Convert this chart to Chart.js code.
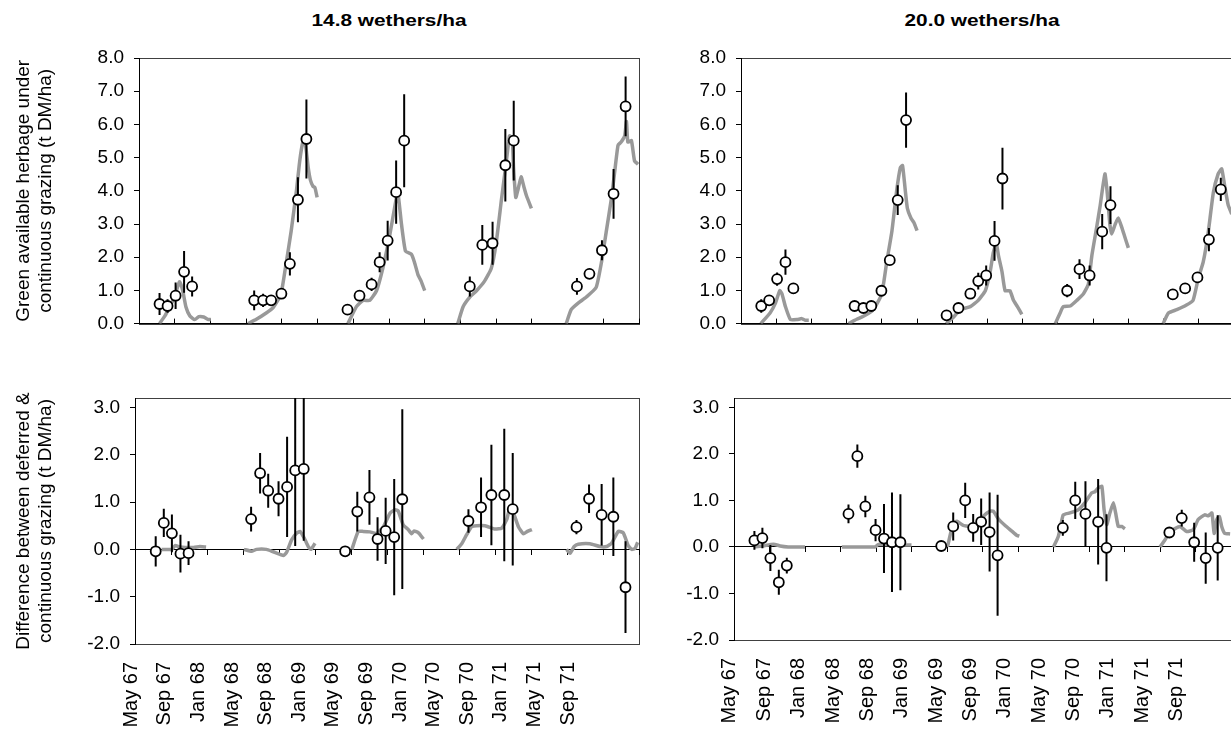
<!DOCTYPE html>
<html>
<head>
<meta charset="utf-8">
<title>Green herbage under continuous and deferred grazing</title>
<script src="https://cdn.jsdelivr.net/npm/chart.js@4.4.1/dist/chart.umd.min.js"></script>
<style>
  body {
    margin: 0;
    width: 1231px;
    height: 734px;
    overflow: hidden;
    position: relative;
    background: #fff;
    font-family: "Liberation Sans", Arial, sans-serif;
  }
  canvas { position: absolute; }
  .title {
    position: absolute;
    top: 12px;
    font-size: 16px;
    font-weight: bold;
    white-space: nowrap;
    transform: translateX(-50%) scaleX(1.3);
  }
</style>
</head>
<body>
<div class="title" style="left:389px">14.8 wethers/ha</div>
<div class="title" style="left:982px">20.0 wethers/ha</div>
<canvas id="herb148" width="660" height="345" style="left:0;top:0"></canvas>
<canvas id="herb200" width="580" height="345" style="left:680px;top:0"></canvas>
<canvas id="diff148" width="660" height="374" style="left:0;top:360px"></canvas>
<canvas id="diff200" width="580" height="374" style="left:680px;top:360px"></canvas>

<script>
/* ================= Data ================= */
// time is in months counted from 1 May 1967

const monthTicks = [0, 4, 8, 12, 16, 20, 24, 28, 32, 36, 40, 44, 48, 52, 56];
const tickLabels = ["May 67", "Sep 67", "Jan 68", "May 68", "Sep 68", "Jan 69", "May 69",
  "Sep 69", "Jan 70", "May 70", "Sep 70", "Jan 71", "May 71", "Sep 71"];
const herbageTicks = [0, 1, 2, 3, 4, 5, 6, 7, 8];
const diffTicks = [-2, -1, 0, 1, 2, 3];

// sampling dates of the observed values
const sampleMonths = [
  2.3, 3.2, 4.1, 5.05, 5.95,
  12.9, 13.9, 14.8, 15.95, 16.9, 17.8, 18.75,
  23.35, 24.7, 26.05, 26.95, 27.85, 28.8, 29.7,
  37.05, 38.45, 39.6, 41.03, 41.97,
  49.05, 50.45, 51.85, 53.15, 54.5,
];

// observed green herbage, continuous grazing (t DM/ha)
const herb148 = [0.59, 0.53, 0.84, 1.56, 1.12, 0.7, 0.7, 0.7, 0.9, 1.8, 3.73, 5.56,
  0.42, 0.84, 1.18, 1.85, 2.5, 3.96, 5.51, 1.12, 2.37, 2.42, 4.77, 5.51,
  1.12, 1.5, 2.21, 3.91, 6.54];
const herb148Err = [0.33, 0.2, 0.4, 0.63, 0.3, 0.3, 0.2, 0.15, 0.1, 0.35, 0.68, 1.19,
  0.08, 0.15, 0.2, 0.3, 0.6, 0.95, 1.4, 0.3, 0.6, 0.65, 1.09, 1.2,
  0.25, 0.15, 0.3, 0.75, 0.9];
const herb200 = [0.53, 0.7, 1.34, 1.85, 1.06, 0.53, 0.47, 0.53, 0.99, 1.91, 3.72, 6.13,
  0.25, 0.47, 0.9, 1.28, 1.45, 2.49, 4.37, 0.99, 1.64, 1.45, 2.77, 3.57,
  0.88, 1.06, 1.39, 2.53, 4.04];
const herb200Err = [0.2, 0.1, 0.2, 0.38, 0.1, 0.15, 0.1, 0.08, 0.08, 0.12, 0.45, 0.83,
  0.05, 0.1, 0.12, 0.25, 0.3, 0.6, 0.93, 0.2, 0.3, 0.3, 0.53, 0.57,
  0.15, 0.08, 0.15, 0.35, 0.35];

// observed difference deferred - continuous (t DM/ha)
const diff148 = [-0.04, 0.56, 0.34, -0.09, -0.08, 0.64, 1.61, 1.24, 1.07, 1.32, 1.67, 1.7,
  -0.04, 0.8, 1.1, 0.22, 0.39, 0.26, 1.06, 0.6, 0.89, 1.15, 1.15, 0.85,
  0.47, 1.07, 0.73, 0.69, -0.8];
const diff148Err = [0.32, 0.3, 0.4, 0.4, 0.25, 0.26, 0.43, 0.36, 0.37, 1.06, 1.6, 1.52,
  0.05, 0.42, 0.58, 0.46, 0.7, 1.23, 1.9, 0.25, 0.63, 1.06, 1.4, 1.19,
  0.15, 0.3, 0.65, 0.83, 0.97];
const diff200 = [0.14, 0.19, -0.24, -0.76, -0.4, 0.71, 1.95, 0.87, 0.36, 0.18, 0.1, 0.1,
  0.02, 0.44, 1.0, 0.41, 0.54, 0.32, -0.18, 0.41, 1.0, 0.71, 0.54, -0.02,
  0.31, 0.62, 0.1, -0.24, -0.02];
const diff200Err = [0.2, 0.22, 0.28, 0.27, 0.17, 0.2, 0.25, 0.23, 0.24, 0.74, 1.07, 1.03,
  0.03, 0.3, 0.38, 0.3, 0.5, 0.85, 1.3, 0.17, 0.4, 0.7, 0.92, 0.72,
  0.1, 0.18, 0.42, 0.55, 0.7];

// simulated series (null = break between seasons)
const simHerb148Months = [
  2.3, 2.9, 3.45, 3.9, 4.35, 4.55, 4.9, 5.25, 5.7, 6.25, 6.7, 7.25, 7.7, 8.05, null,
  12.2, 13.15, 14.25, 15.0, 15.75, 16.05, 16.5, 17.05, 17.65, 18.0, 18.35, 18.55, 18.75, 18.95, 19.2, 19.5, 19.7, 19.95, null,
  23.4, 24.35, 25.1, 25.85, 26.6, 27.3, 28.05, 28.8, 29.0, 29.4, 29.85, 30.5, 30.85, 31.25, 31.6, 32.0, null,
  35.7, 36.3, 37.05, 37.8, 38.7, 39.45, 40.0, 40.6, 41.15, 41.5, 41.8, 41.95, 42.2, 42.45, 42.8, 43.1, 43.4, 43.95, null,
  47.85, 48.4, 49.15, 50.1, 51.2, 51.8, 52.35, 52.9, 53.25, 53.65, 54.0, 54.4, 54.6, 54.75, 55.15, 55.5, 55.9,
];
const simHerb148 = [
  0, 0.23, 0.51, 0.75, 1.13, 1.26, 0.99, 0.51, 0.23, 0.12, 0.21, 0.2, 0.13, 0.12, null,
  0, 0.13, 0.32, 0.47, 0.8, 1.09, 1.85, 2.8, 4.04, 4.9, 5.47, 5.51, 5.18, 4.7, 4.32, 4.13, 4.1, 3.8, null,
  0, 0.51, 0.7, 0.7, 0.99, 1.66, 2.61, 3.75, 3.94, 2.99, 2.18, 2.09, 1.85, 1.47, 1.28, 0.99, null,
  0, 0.51, 0.8, 0.99, 1.28, 1.66, 2.42, 3.75, 4.9, 5.66, 5.56, 4.7, 3.8, 4.04, 4.42, 4.13, 3.85, 3.47, null,
  0, 0.42, 0.61, 0.8, 1.09, 1.85, 2.8, 3.75, 4.51, 5.37, 5.47, 5.66, 6.09, 5.47, 5.51, 4.9, 4.8,
];

const simHerb200Months = [
  2.25, 3.3, 3.9, 4.4, 4.65, 5.05, 5.6, 6.35, 6.9, 7.3, 7.7, null,
  12.2, 13.15, 13.9, 14.85, 15.45, 16.0, 16.55, 17.15, 17.7, 18.1, 18.35, 18.65, 18.9, 19.3, 19.65, 20.0, null,
  23.3, 24.15, 24.9, 26.05, 26.95, 27.75, 28.3, 28.65, 29.0, 29.25, 29.65, 30.0, 30.55, 30.95, 31.4, 31.9, null,
  35.7, 36.25, 36.6, 37.4, 38.15, 38.9, 39.45, 39.85, 40.4, 40.8, 41.1, 41.35, 41.6, 41.9, 42.1, 42.5, 42.85, 43.25, 43.6, 44.0, null,
  47.95, 48.55, 49.5, 50.6, 51.35, 51.95, 52.5, 53.05, 53.65, 54.2, 54.6, 54.95, 55.35, 55.75,
];
const simHerb200 = [
  0, 0.32, 0.61, 0.99, 0.9, 0.51, 0.13, 0.12, 0.15, 0.1, 0.1, null,
  0, 0.13, 0.22, 0.37, 0.6, 0.9, 1.85, 2.8, 4.04, 4.7, 4.76, 4.04, 3.47, 3.18, 3.04, 2.8, null,
  0, 0.2, 0.42, 0.51, 0.7, 0.99, 1.56, 2.13, 2.42, 2.04, 1.56, 0.99, 0.99, 0.7, 0.51, 0.28, null,
  0, 0.32, 0.51, 0.53, 0.7, 0.9, 1.18, 2.04, 2.9, 3.56, 4.13, 4.51, 3.94, 2.99, 2.7, 2.99, 3.18, 2.9, 2.61, 2.28, null,
  0, 0.32, 0.42, 0.56, 0.7, 1.37, 1.85, 2.7, 3.94, 4.51, 4.66, 4.13, 3.56, 3.3,
];

const simDiff148Months = [
  2.95, 4.1, 4.45, 5.0, 6.5, 7.2, 7.9, null,
  12.1, 12.95, 13.5, 14.6, 15.35, 16.5, 16.85, 17.4, 17.95, 18.35, 18.8, 19.25, 19.55, 20.0, null,
  24.1, 24.8, 25.35, 26.1, 26.85, 27.6, 28.35, 28.9, 29.25, 29.8, 30.35, 30.75, 31.0, 31.5, 32.05, null,
  35.75, 36.3, 36.85, 37.4, 37.95, 38.9, 40.0, 40.75, 41.3, 41.65, 42.05, 42.6, 43.15, 43.6, 44.1, null,
  47.95, 48.35, 48.8, 49.25, 50.55, 51.65, 52.4, 52.95, 53.7, 54.25, 54.8, 55.2, 55.55, 55.85,
];
const simDiff148 = [
  0, 0, 0.08, 0.05, 0.04, 0.06, 0.05, null,
  0, -0.04, 0, 0, -0.05, -0.13, -0.06, 0.2, 0.34, 0.38, 0.24, 0.06, 0, 0.13, null,
  0, 0.38, 0.38, 0.37, 0.34, 0.48, 0.77, 0.84, 0.81, 0.52, 0.42, 0.33, 0.39, 0.35, 0.22, null,
  0, 0.12, 0.31, 0.48, 0.5, 0.5, 0.43, 0.45, 0.63, 0.87, 0.77, 0.48, 0.33, 0.38, 0.42, null,
  0, -0.08, 0.06, 0.11, 0.12, 0.06, 0.06, 0.13, 0.38, 0.35, 0.08, 0, 0.02, 0.15,
];

const simDiff200Months = [
  2.25, 3.15, 4.45, 5.2, 6.1, 8.0, null,
  12.15, 15.9, 16.25, 20.0, null,
  24.05, 24.7, 25.1, 25.85, 26.2, 27.15, 28.1, 28.85, 29.2, 29.8, 30.55, 31.3, 31.85, 32.15, null,
  36.0, 36.55, 37.1, 37.85, 38.8, 39.55, 40.3, 40.7, 41.05, 41.45, 41.7, 42.0, 42.35, 42.75, 43.0, 43.3, 43.7, 44.05, null,
  48.0, 48.55, 49.15, 50.25, 51.0, 51.75, 52.3, 53.05, 53.45, 53.85, 54.1, 54.4, 54.7, 54.95, 55.3, 55.9,
];
const simDiff200 = [
  0, 0.02, 0.06, 0.02, 0, 0, null,
  0, 0, 0.05, 0.04, null,
  0, 0.51, 0.55, 0.46, 0.45, 0.43, 0.66, 0.77, 0.77, 0.6, 0.46, 0.34, 0.25, 0.23, null,
  0, 0.23, 0.69, 0.73, 0.8, 0.95, 1.16, 1.19, 1.27, 1.3, 0.8, 0.48, 0.73, 0.95, 0.73, 0.44, 0.44, 0.39, null,
  0, 0.15, 0.33, 0.44, 0.33, 0.37, 0.59, 0.69, 0.67, 0.73, 0.29, 0.59, 0.65, 0.44, 0.29, 0.28,
];

/* ================= Helpers ================= */

Chart.defaults.font.family = '"Liberation Sans", Arial, sans-serif';
Chart.defaults.color = "#000";

// box round the plot area
const frame = {
  id: "frame",
  beforeDraw(chart) {
    const { ctx, chartArea: a } = chart;
    ctx.save();
    ctx.strokeStyle = "#404040";
    ctx.lineWidth = 1;
    ctx.strokeRect(Math.round(a.left) + 0.5, Math.round(a.top) + 0.5,
      Math.round(a.width), Math.round(a.height));
    ctx.restore();
  },
};

function lineData(months, values) {
  return months.map((m, i) => ({ x: m === null ? months[i - 1] : m, y: values[i] }));
}

function errorBars(months, means, errs) {
  const pts = [];
  months.forEach((m, i) => {
    pts.push({ x: m, y: means[i] - errs[i] });
    pts.push({ x: m, y: means[i] + errs[i] });
    pts.push({ x: m, y: null });
  });
  return pts;
}

function makePanel(id, cfg) {
  const scales = {
    x: {
      type: "linear",
      axis: "x",
      position: cfg.labelRange ? { y: 0 } : "bottom",
      min: 0,
      max: 56,
      afterBuildTicks: (s) => { s.ticks = monthTicks.map((v) => ({ value: v })); },
      afterFit: (s) => { s.height = cfg.labelRange ? 0 : 7; },
      ticks: { display: false },
      grid: { drawOnChartArea: false, color: "#000", tickLength: cfg.labelRange ? 5 : -5 },
      border: { color: "#000" },
    },
    y: {
      type: "linear",
      min: cfg.yMin,
      max: cfg.yMax,
      afterBuildTicks: (s) => { s.ticks = cfg.yTicks.map((v) => ({ value: v })); },
      afterFit: (s) => { s.width = cfg.yWidth; },
      ticks: { callback: (v) => v.toFixed(1), font: { size: 19 }, color: "#000", padding: 10 },
      grid: { drawOnChartArea: false, color: "#000", tickLength: 5 },
      border: { color: "#000" },
      title: cfg.yTitle
        ? { display: true, text: cfg.yTitle, color: "#000",
            font: { size: 19, lineHeight: 1.16 }, padding: { top: 13, bottom: 0 } }
        : { display: false },
    },
  };

  // date labels under the lower panels
  if (cfg.labelRange) {
    scales.xl = {
      type: "linear",
      axis: "x",
      position: "bottom",
      min: cfg.labelRange[0],
      max: cfg.labelRange[1],
      afterBuildTicks: (s) => { s.ticks = tickLabels.map((_, i) => ({ value: i })); },
      afterFit: (s) => { s.height = cfg.labelHeight; },
      ticks: {
        callback: (v) => tickLabels[v],
        autoSkip: false,
        minRotation: 90,
        maxRotation: 90,
        font: { size: 20 },
        color: "#000",
        padding: 18,
      },
      grid: { display: false, drawTicks: false },
      border: { display: false },
    };
  }

  new Chart(document.getElementById(id), {
    type: "line",
    data: {
      datasets: [
        {
          label: "Observed",
          data: sampleMonths.map((m, i) => ({ x: m, y: cfg.obs[i] })),
          xAxisID: "x",
          showLine: false,
          pointStyle: "circle",
          pointRadius: 5,
          pointBorderWidth: 1.8,
          pointBackgroundColor: "#fff",
          pointBorderColor: "#000",
          order: 0,
        },
        {
          label: "Error",
          data: errorBars(sampleMonths, cfg.obs, cfg.err),
          xAxisID: "x",
          borderColor: "#000",
          borderWidth: 2,
          pointRadius: 0,
          spanGaps: false,
          order: 1,
        },
        {
          label: "Simulated",
          data: lineData(cfg.simMonths, cfg.sim),
          xAxisID: "x",
          borderColor: "#999",
          borderWidth: 3.5,
          pointRadius: 0,
          tension: 0.15,
          spanGaps: false,
          order: 2,
        },
      ],
    },
    options: {
      responsive: false,
      animation: false,
      layout: { padding: { top: cfg.padTop, right: cfg.padRight, bottom: 0, left: 0 } },
      plugins: { legend: { display: false }, tooltip: { enabled: false } },
      scales: scales,
    },
    plugins: [frame],
  });
}

/* ================= Panels ================= */

const herbTitle = ["Green available herbage under", "continuous grazing (t DM/ha)"];
const diffTitle = ["Difference between deferred &", "continuous grazing (t DM/ha)"];

makePanel("herb148", {
  obs: herb148, err: herb148Err, simMonths: simHerb148Months, sim: simHerb148,
  yMin: 0, yMax: 8, yTicks: herbageTicks, yWidth: 139, yTitle: herbTitle,
  padTop: 58, padRight: 21,
});

makePanel("herb200", {
  obs: herb200, err: herb200Err, simMonths: simHerb200Months, sim: simHerb200,
  yMin: 0, yMax: 8, yTicks: herbageTicks, yWidth: 61,
  padTop: 58, padRight: 26,
});

makePanel("diff148", {
  obs: diff148, err: diff148Err, simMonths: simDiff148Months, sim: simDiff148,
  yMin: -2, yMax: 3.2, yTicks: diffTicks, yWidth: 135, yTitle: diffTitle,
  padTop: 38, padRight: 21, labelRange: [0.11, 15.11], labelHeight: 90,
});

makePanel("diff200", {
  obs: diff200, err: diff200Err, simMonths: simDiff200Months, sim: simDiff200,
  yMin: -2, yMax: 3.2, yTicks: diffTicks, yWidth: 54,
  padTop: 38, padRight: 29, labelRange: [0.12, 14.58], labelHeight: 94,
});
</script>
</body>
</html>
